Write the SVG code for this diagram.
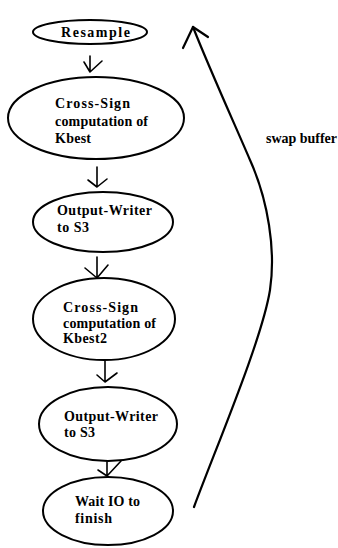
<svg xmlns="http://www.w3.org/2000/svg" width="338" height="548" viewBox="0 0 338 548">
  <style>
    .node ellipse { fill: #ffffff; stroke: #000000; stroke-width: 2; }
    .node text, .label { font-family: "Liberation Serif", "Times New Roman", serif; font-weight: bold; font-size: 14px; fill: #000000; }
    .conn { fill: none; stroke: #000000; stroke-width: 1.6; stroke-linecap: round; stroke-linejoin: round; }
    .loop { fill: none; stroke: #000000; stroke-width: 2.2; stroke-linecap: round; stroke-linejoin: round; }
  </style>
  <rect width="338" height="548" fill="#ffffff"/>

  <!-- pipeline steps -->
  <g id="resample" class="node">
    <ellipse cx="90" cy="32" rx="57" ry="12"/>
    <text x="61" y="37" textLength="69" lengthAdjust="spacing">Resample</text>
  </g>
  <g id="cross-sign-kbest" class="node">
    <ellipse cx="96" cy="118" rx="88" ry="41"/>
    <text x="55" y="108" textLength="75" lengthAdjust="spacing">Cross-Sign</text>
    <text x="55" y="126" textLength="93" lengthAdjust="spacing">computation of</text>
    <text x="55" y="143" textLength="36" lengthAdjust="spacing">Kbest</text>
  </g>
  <g id="output-writer-1" class="node">
    <ellipse cx="103" cy="222" rx="70" ry="30"/>
    <text x="57" y="215" textLength="95" lengthAdjust="spacing">Output-Writer</text>
    <text x="57" y="232" textLength="32" lengthAdjust="spacing">to S3</text>
  </g>
  <g id="cross-sign-kbest2" class="node">
    <ellipse cx="104" cy="319" rx="71" ry="41"/>
    <text x="63" y="312" textLength="75" lengthAdjust="spacing">Cross-Sign</text>
    <text x="63" y="328" textLength="93" lengthAdjust="spacing">computation of</text>
    <text x="63" y="343" textLength="44" lengthAdjust="spacing">Kbest2</text>
  </g>
  <g id="output-writer-2" class="node">
    <ellipse cx="108" cy="424" rx="69" ry="37"/>
    <text x="64" y="421" textLength="94" lengthAdjust="spacing">Output-Writer</text>
    <text x="64" y="437" textLength="31" lengthAdjust="spacing">to S3</text>
  </g>
  <g id="wait-io" class="node">
    <ellipse cx="108" cy="511" rx="65" ry="34"/>
    <text x="75" y="506" textLength="65" lengthAdjust="spacing">Wait IO to</text>
    <text x="75" y="523" textLength="37" lengthAdjust="spacing">finish</text>
  </g>

  <!-- connectors: hand-drawn down arrows and the swap-buffer loop -->
  <g id="connectors">
    <path class="conn" d="M90,56 L90,72 M84,62 L90,72 L102,61"/>
    <path class="conn" d="M97,167 L97,187 M88,180 L97,187 L107,179"/>
    <path class="conn" d="M97,257 L97,278 M85,268 L97,278 L108,265"/>
    <path class="conn" d="M105,361 L105,382 M97,375 L105,382 L117,373"/>
    <path class="conn" d="M107,462 L107,476 M98,470 L107,476 L121,461"/>
    <path class="loop" d="M194,507 C215,450 262,340 270,290 C276,250 268,200 250,160 C235,125 210,70 193,27"/>
    <path class="loop" d="M183,48 L193,27 L208,37"/>
  </g>
  <text class="label" x="266" y="143" textLength="71" lengthAdjust="spacing">swap buffer</text>
</svg>
